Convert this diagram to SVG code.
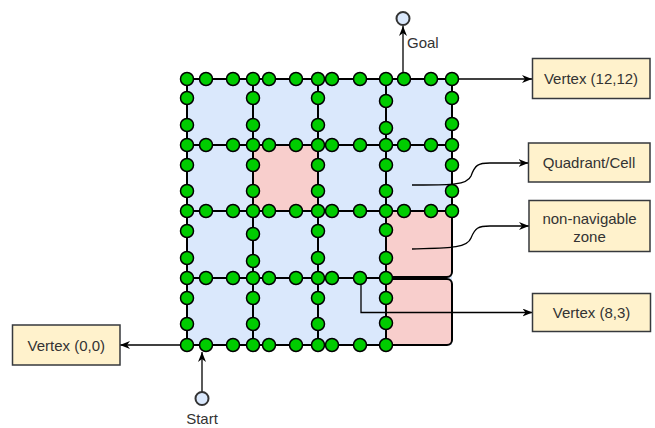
<svg xmlns="http://www.w3.org/2000/svg" xmlns:xlink="http://www.w3.org/1999/xlink" width="655" height="428" viewBox="0 0 655 428">
<style>
.grid{stroke:#000;stroke-width:2;fill:none}
.dots use{fill:#00cc00;stroke:#000;stroke-width:1.5}
.box{fill:#fff2cc;stroke:#36393d;stroke-width:1.5}
.lbl{font-family:"Liberation Sans",Arial,sans-serif;font-size:15px;fill:#333;text-anchor:middle}
.con{stroke:#000;stroke-width:1.3;fill:none}
.term{fill:#dae8fc;stroke:#333;stroke-width:2}
</style>
<defs>
<circle id="dot" r="6.5"/>
<marker id="arr" viewBox="0 0 10 8" refX="10" refY="4" markerWidth="10" markerHeight="8" markerUnits="userSpaceOnUse" orient="auto">
<path d="M0,0 L10,4 L0,8 L3,4 Z" fill="#000"/>
</marker>
</defs>
<rect width="655" height="428" fill="#fff"/>
<g id="grid">
<rect x="187" y="79" width="265" height="266" fill="#dae8fc"/>
<rect x="253" y="145" width="65" height="66" fill="#f8cecc"/>
<rect x="386" y="211" width="66" height="66" rx="5" fill="#f8cecc" stroke="#000" stroke-width="2"/>
<rect x="386" y="279" width="66" height="66" rx="5" fill="#f8cecc" stroke="#000" stroke-width="2"/>
<path class="grid" d="M187,79H452M187,145H452M187,211H452M187,278H386M187,345H386M187,79V345M253,79V345M318,79V345M386,79V345M452,79V211"/>
<g class="dots">
<use href="#dot" x="187" y="79"/><use href="#dot" x="206" y="79"/><use href="#dot" x="233" y="79"/><use href="#dot" x="253" y="79"/><use href="#dot" x="269" y="79"/><use href="#dot" x="296" y="79"/><use href="#dot" x="318" y="79"/><use href="#dot" x="332" y="79"/><use href="#dot" x="360" y="79"/><use href="#dot" x="386" y="79"/><use href="#dot" x="404" y="79"/><use href="#dot" x="431" y="79"/><use href="#dot" x="452" y="79"/>
<use href="#dot" x="187" y="145"/><use href="#dot" x="206" y="145"/><use href="#dot" x="233" y="145"/><use href="#dot" x="253" y="145"/><use href="#dot" x="269" y="145"/><use href="#dot" x="296" y="145"/><use href="#dot" x="318" y="145"/><use href="#dot" x="332" y="145"/><use href="#dot" x="360" y="145"/><use href="#dot" x="386" y="145"/><use href="#dot" x="404" y="145"/><use href="#dot" x="431" y="145"/><use href="#dot" x="452" y="145"/>
<use href="#dot" x="187" y="211"/><use href="#dot" x="206" y="211"/><use href="#dot" x="233" y="211"/><use href="#dot" x="253" y="211"/><use href="#dot" x="269" y="211"/><use href="#dot" x="296" y="211"/><use href="#dot" x="318" y="211"/><use href="#dot" x="332" y="211"/><use href="#dot" x="360" y="211"/><use href="#dot" x="386" y="211"/><use href="#dot" x="404" y="211"/><use href="#dot" x="431" y="211"/><use href="#dot" x="452" y="211"/>
<use href="#dot" x="187" y="278"/><use href="#dot" x="206" y="278"/><use href="#dot" x="233" y="278"/><use href="#dot" x="253" y="278"/><use href="#dot" x="269" y="278"/><use href="#dot" x="296" y="278"/><use href="#dot" x="318" y="278"/><use href="#dot" x="332" y="278"/><use href="#dot" x="360" y="278"/><use href="#dot" x="386" y="278"/>
<use href="#dot" x="187" y="345"/><use href="#dot" x="206" y="345"/><use href="#dot" x="233" y="345"/><use href="#dot" x="253" y="345"/><use href="#dot" x="269" y="345"/><use href="#dot" x="296" y="345"/><use href="#dot" x="318" y="345"/><use href="#dot" x="332" y="345"/><use href="#dot" x="360" y="345"/><use href="#dot" x="386" y="345"/>
<use href="#dot" x="187" y="98"/><use href="#dot" x="187" y="125"/><use href="#dot" x="187" y="165"/><use href="#dot" x="187" y="191"/><use href="#dot" x="187" y="231"/><use href="#dot" x="187" y="258"/><use href="#dot" x="187" y="298"/><use href="#dot" x="187" y="324"/>
<use href="#dot" x="253" y="98"/><use href="#dot" x="253" y="125"/><use href="#dot" x="253" y="165"/><use href="#dot" x="253" y="191"/><use href="#dot" x="253" y="234"/><use href="#dot" x="253" y="261"/><use href="#dot" x="253" y="298"/><use href="#dot" x="253" y="324"/>
<use href="#dot" x="318" y="98"/><use href="#dot" x="318" y="125"/><use href="#dot" x="318" y="165"/><use href="#dot" x="318" y="191"/><use href="#dot" x="318" y="231"/><use href="#dot" x="318" y="258"/><use href="#dot" x="318" y="298"/><use href="#dot" x="318" y="324"/>
<use href="#dot" x="386" y="101"/><use href="#dot" x="386" y="128"/><use href="#dot" x="386" y="165"/><use href="#dot" x="386" y="191"/><use href="#dot" x="386" y="230"/><use href="#dot" x="386" y="258"/><use href="#dot" x="386" y="298"/><use href="#dot" x="386" y="323"/>
<use href="#dot" x="452" y="98"/><use href="#dot" x="452" y="124"/><use href="#dot" x="452" y="165"/><use href="#dot" x="452" y="191"/>
</g>
</g>
<g id="connectors">
<path class="con" d="M403,72.5V26" marker-end="url(#arr)"/>
<path class="con" d="M202,392V352" marker-end="url(#arr)"/>
<path class="con" d="M458.5,79H532" marker-end="url(#arr)"/>
<path class="con" d="M180.5,345H120" marker-end="url(#arr)"/>
<path class="con" d="M412,185C445,185 467,186 471,176C475,165 478,163 490,163H528.5" marker-end="url(#arr)"/>
<path class="con" d="M412,249C445,248 467,249 471,238C475,228 478,226 490,226H529" marker-end="url(#arr)"/>
<path class="con" d="M361,284.5V312.5H532.5" marker-end="url(#arr)"/>
</g>
<g id="goal">
<circle class="term" cx="403" cy="18.5" r="6.5"/>
<text class="lbl" x="407" y="48" style="text-anchor:start">Goal</text>
</g>
<g id="start">
<circle class="term" cx="202" cy="398.5" r="6.5"/>
<text class="lbl" x="202" y="424">Start</text>
</g>
<g id="vertex-12-12">
<rect class="box" x="532.5" y="58.5" width="117.5" height="40"/>
<text class="lbl" x="591" y="84">Vertex (12,12)</text>
</g>
<g id="quadrant-cell">
<rect class="box" x="528.5" y="143" width="121.5" height="39"/>
<text class="lbl" x="589" y="168">Quadrant/Cell</text>
</g>
<g id="non-navigable">
<rect class="box" x="529" y="200.5" width="121" height="51"/>
<text class="lbl" x="589.5" y="223.5">non-navigable</text>
<text class="lbl" x="589.5" y="241.5">zone</text>
</g>
<g id="vertex-8-3">
<rect class="box" x="532.5" y="293.5" width="118" height="38"/>
<text class="lbl" x="591.5" y="318">Vertex (8,3)</text>
</g>
<g id="vertex-0-0">
<rect class="box" x="12.5" y="325" width="107.5" height="40"/>
<text class="lbl" x="66.3" y="351">Vertex (0,0)</text>
</g>
</svg>
